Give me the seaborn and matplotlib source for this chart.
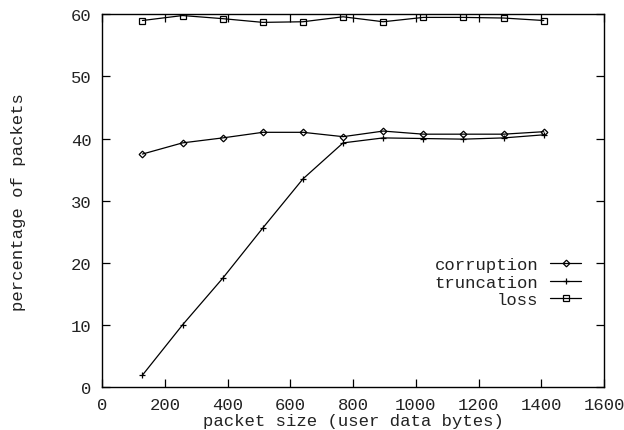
import numpy as np
import pandas as pd
import seaborn as sns
import matplotlib
matplotlib.use('Agg')
import matplotlib.pyplot as plt

# packet sizes (user data bytes)
packet_size = [128, 256, 384, 512, 640, 768, 896, 1024, 1152, 1280, 1408]

# percentages
corruption = [37.5, 39.3, 40.1, 41.0, 41.0, 40.3, 41.2, 40.7, 40.7, 40.7, 41.1]
truncation = [1.9, 10.0, 17.5, 25.6, 33.5, 39.3, 40.1, 40.0, 39.9, 40.1, 40.6]
loss = [59.0, 59.8, 59.3, 58.7, 58.8, 59.6, 58.8, 59.5, 59.5, 59.4, 59.0]

series_names = ['corruption', 'truncation', 'loss']
series_markers = ['D', '+', 's']
marker_sizes = [3.4, 5.0, 4.0]

x_ticks = [0, 200, 400, 600, 800, 1000, 1200, 1400, 1600]
y_ticks = [0, 10, 20, 30, 40, 50, 60]

df = pd.DataFrame({'size': packet_size,
                   'corruption': corruption,
                   'truncation': truncation,
                   'loss': loss})

FS = 12.4
TXT = '#222222'

sns.set_style('ticks')
plt.rcParams['font.family'] = ['Liberation Mono', 'DejaVu Sans Mono']
plt.rcParams['font.size'] = FS

fig = plt.figure(figsize=(6.24, 4.31), dpi=100)
ax = fig.add_axes([0.1639, 0.0998, 0.8040, 0.8647])

for name, mk, ms in zip(series_names, series_markers, marker_sizes):
    sns.lineplot(data=df, x='size', y=name, ax=ax, color='black',
                 linewidth=0.9, marker=mk, markersize=ms,
                 markerfacecolor='none', markeredgecolor='black',
                 markeredgewidth=0.9, label=name, legend=False)

ax.set_xlim(0, 1600)
ax.set_ylim(0, 60)
ax.set_xticks(x_ticks)
ax.set_yticks(y_ticks)
ax.tick_params(direction='in', length=5.5, width=0.9, top=True, right=True,
               labelsize=FS, color='black', labelcolor=TXT, pad=7.5)
for sp in ax.spines.values():
    sp.set_linewidth(1.0)
    sp.set_color('black')

ax.set_xlabel('packet size (user data bytes)', fontsize=FS, color=TXT)
ax.set_ylabel('percentage of packets', fontsize=FS, color=TXT)
ax.xaxis.set_label_coords(0.5, -0.069)
ax.yaxis.set_label_coords(-0.152, 0.5)

leg = ax.legend(loc='center right', bbox_to_anchor=(0.986, 0.2817),
                frameon=False, markerfirst=False, handlelength=1.8,
                handletextpad=0.7, labelspacing=0.12, borderpad=0.4,
                fontsize=FS)
for t in leg.get_texts():
    t.set_color(TXT)

fig.savefig('out.png', dpi=100)
